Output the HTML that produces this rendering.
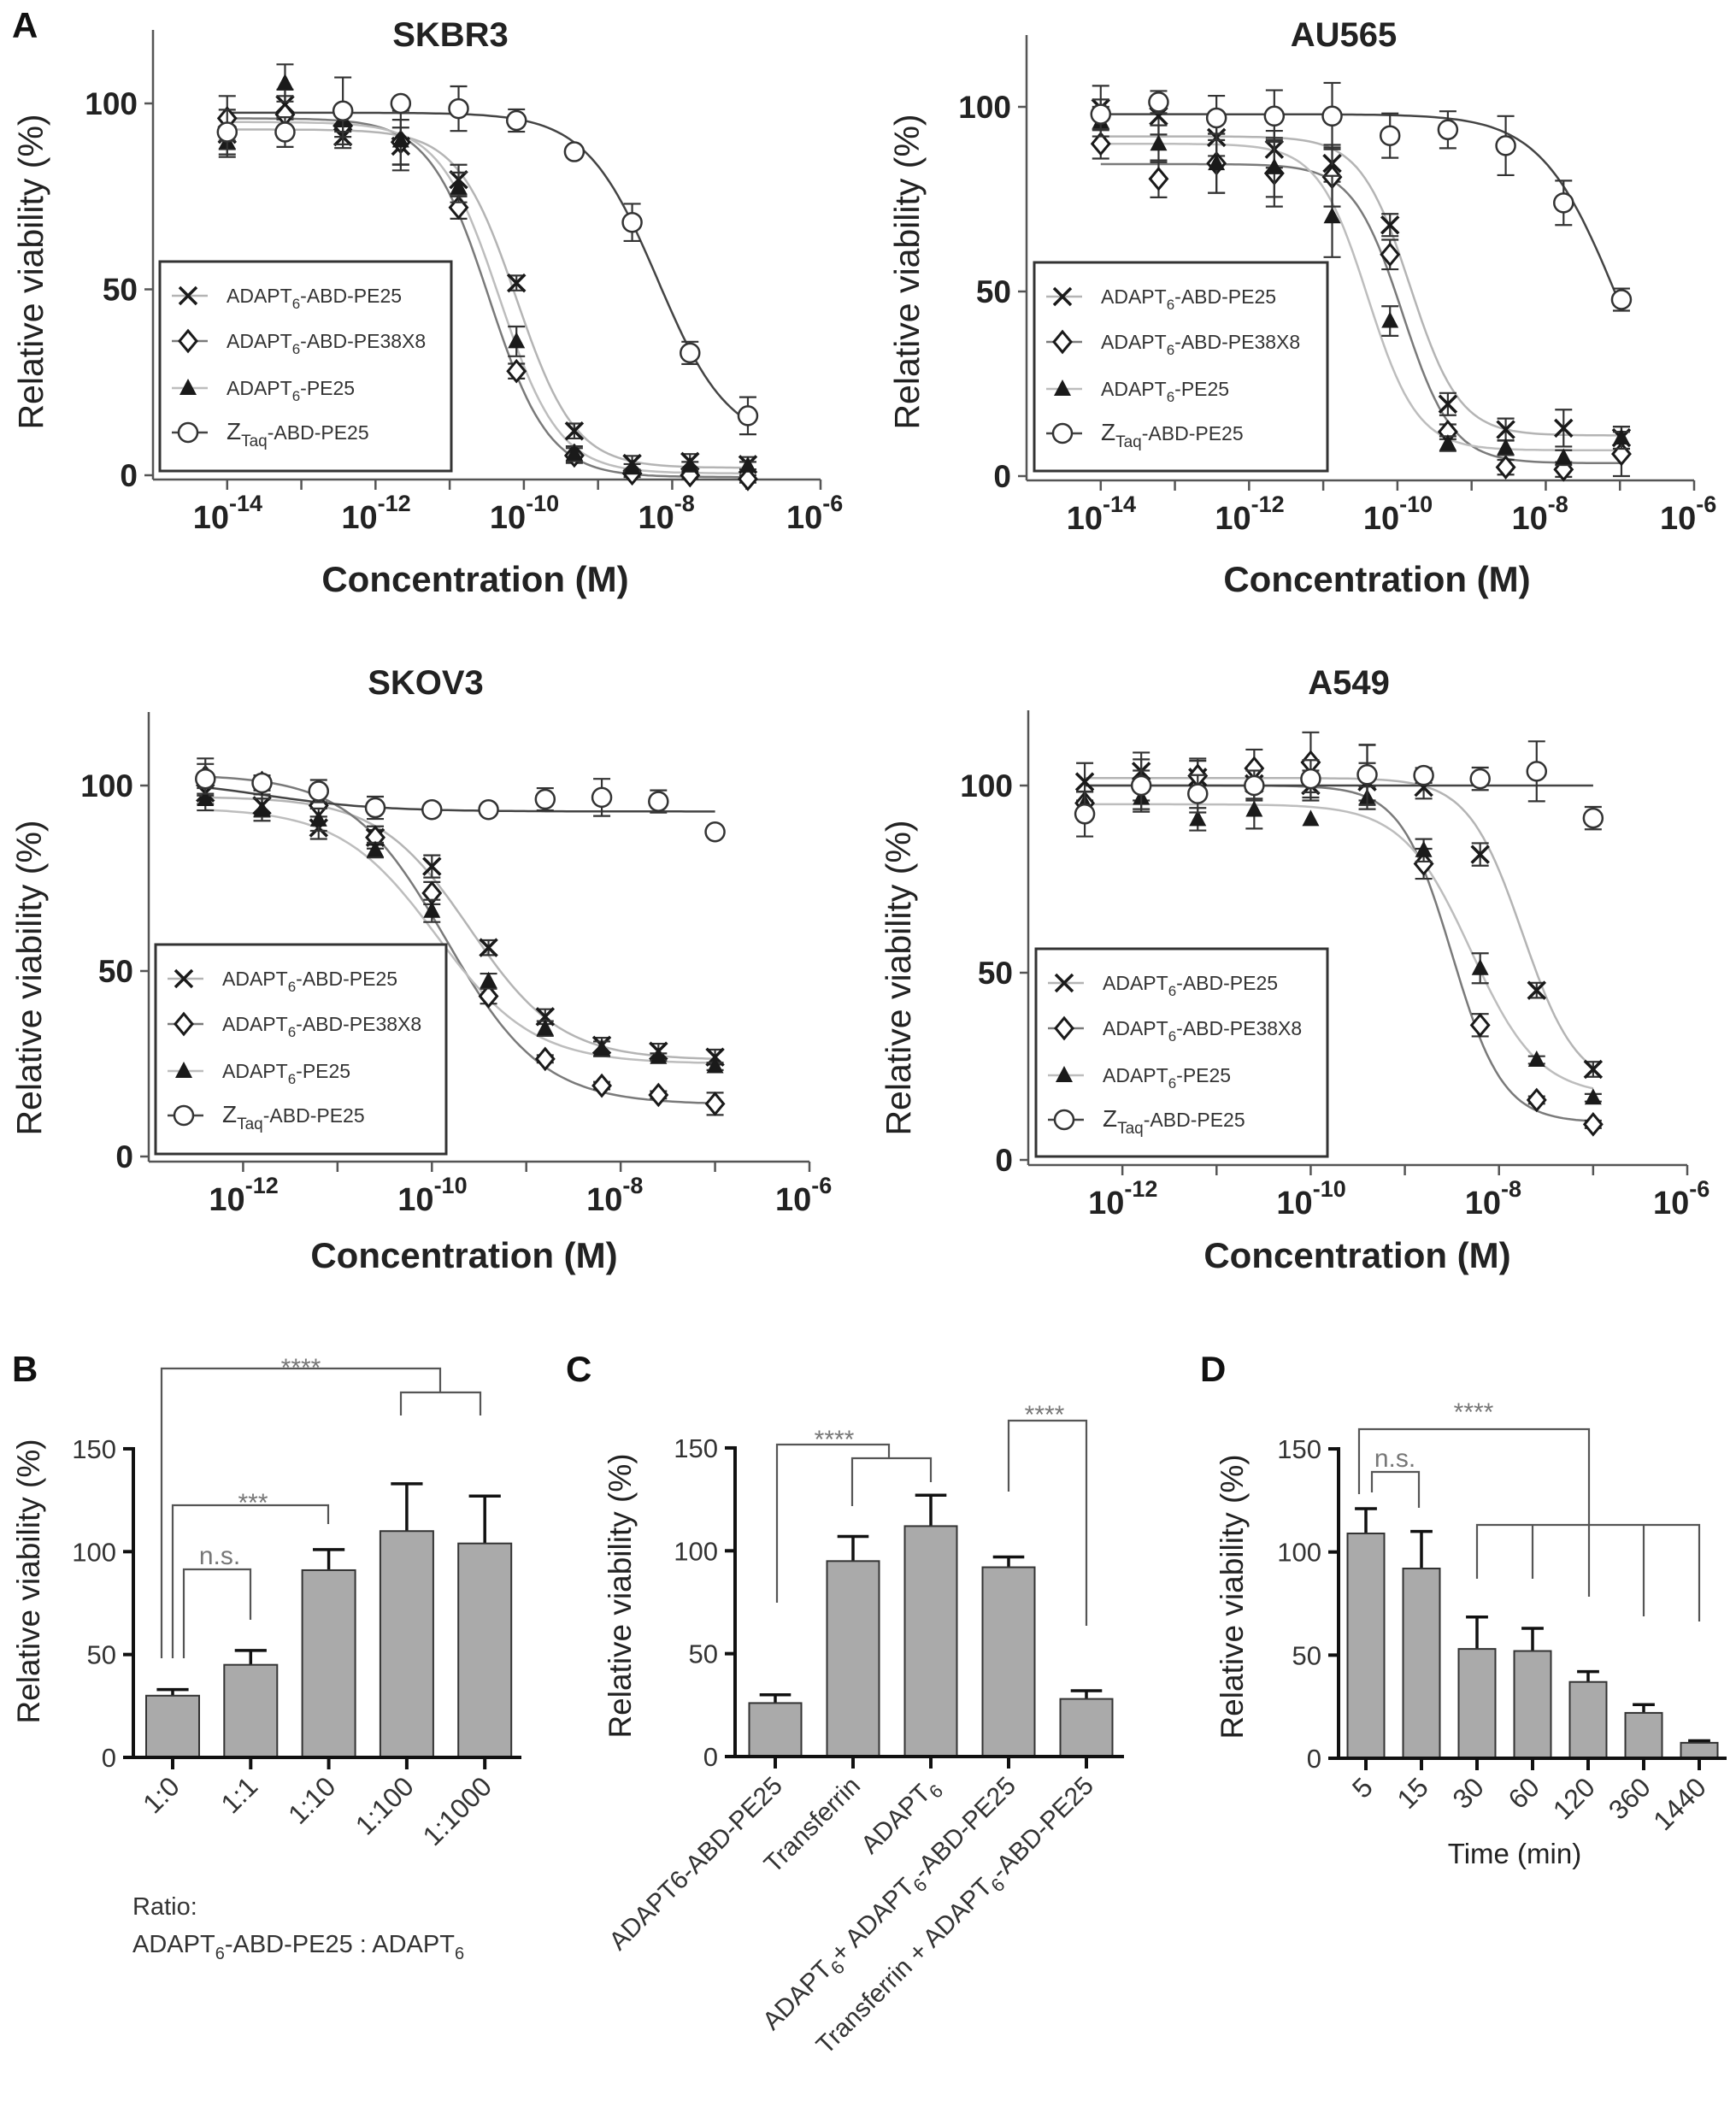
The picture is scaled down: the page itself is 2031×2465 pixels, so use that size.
<!DOCTYPE html>
<html><head><meta charset="utf-8"><title>Viability figure</title>
<style>
html,body{margin:0;padding:0;background:#fff;}
svg{display:block;font-family:"Liberation Sans",Arial,sans-serif;}
</style></head>
<body>
<svg id="chart" width="2031" height="2465" viewBox="0 0 2031 2465" xmlns="http://www.w3.org/2000/svg"></svg>
<script>
// ---------- DATA ----------
const logConcA = [-14,-13.22,-12.44,-11.66,-10.88,-10.1,-9.32,-8.54,-7.76,-6.98];
const logConcB = [-12.4,-11.8,-11.2,-10.6,-10,-9.4,-8.8,-8.2,-7.6,-7.0];
const seriesNames = ['ADAPT6-ABD-PE25','ADAPT6-ABD-PE38X8','ADAPT6-PE25','ZTaq-ABD-PE25'];

const skbr3X = [91.7,99.7,91,88.5,79.5,51.7,11.9,3.2,3.7,2.9];
const skbr3XErr = [4,4,3,5,4,2,2,2,2,2];
const skbr3D = [96,97,94,89.6,72,28,5.3,0.5,0,-1];
const skbr3DErr = [6,5,3,6,3,2,2,1,1,1];
const skbr3T = [89.6,105.5,95.4,90,77.4,36,5.8,2,2.6,2.6];
const skbr3TErr = [4,5,3,8,4,4,2,1,1,1];
const skbr3C = [92.3,92.3,98,100,98.6,95.4,87,68,32.9,16];
const skbr3CErr = [6,4,9,0,6,3,0,5,3,5];
const skbr3Fits = [[93,2,-10.1,1.1],[96,-0.5,-10.47,1.08],[95,0.5,-10.33,1.08],[97.5,8,-8.2,0.9]];

const au565X = [99.7,97.5,91.7,88.5,84.7,68,19.5,12.6,13,10.4];
const au565XErr = [6,5,5,5,5,3,3,3,5,3];
const au565D = [90,80.5,84.7,82,81,60,12,2.4,1.8,6];
const au565DErr = [4,5,8,9,8,4,2,2,2,6];
const au565T = [96,90,84.7,83.6,70.3,42,8.8,7.7,5,10.4];
const au565TErr = [4,5,8,8,11,4,2,2,2,3];
const au565C = [98,101.3,97,97.5,97.5,92.2,93.8,89.5,74,47.8];
const au565CErr = [4,3,6,7,9,6,5,8,6,3];
const au565Fits = [[92,11,-9.83,1.3],[84.5,3.5,-9.93,1.3],[90,7,-10.4,1.3],[98,0,-7.05,0.85]];

const skov3X = [98,94.6,88.6,86,78.2,56.3,37.7,30,28.4,26.8];
const skov3XErr = [3,3,3,2,3,2,2,2,2,2];
const skov3D = [102.3,100.7,94.6,86,71,43.2,26.3,19.1,16.6,14.2];
const skov3DErr = [5,2,3,3,3,2,1,1,1,3];
const skov3T = [96.3,93.5,90.8,82.6,66.2,47.3,34.5,29,26.8,24.3];
const skov3TErr = [3,3,3,2,3,2,2,2,1,1];
const skov3C = [101.8,100.7,98.5,94,93.5,93.5,96.3,96.8,95.7,87.5];
const skov3CErr = [4,2,3,3,0,0,3,5,3,0];
const skov3Fits = [[97,26,-9.6,0.9],[103,14,-9.85,0.85],[94,25,-9.95,0.85],[102,93,-11.8,0.7]];

const a549X = [101,103.8,102.2,100.5,100,101,99.5,81.6,45.3,24.2];
const a549XErr = [5,5,5,4,4,5,3,3,2,2];
const a549D = [95.3,100,102.6,104.6,106.2,102.8,79.1,36,16,9.5];
const a549DErr = [3,4,4,5,8,8,4,3,1,1];
const a549T = [95.3,96.7,91,93.5,91,96.7,82.7,51.2,26.7,16.6];
const a549TErr = [3,3,3,5,0,3,3,4,1,1];
const a549C = [92.4,100,97.8,100,101.8,102.9,102.7,101.8,103.8,91.3];
const a549CErr = [6,7,5,4,5,8,2,3,8,3];
const a549Fits = [[102,19,-7.75,1.5],[100,10,-8.5,1.6],[95,17,-8.3,1.2],[100,100,-9,1]];

const SUB6 = '<tspan dy="8" font-size="22">6</tspan><tspan dy="-8">';
const barBCats = ['1:0','1:1','1:10','1:100','1:1000'];
const barBVals = [30,45,91,110,104];
const barBErr = [3,7,10,23,23];
const barCCats = ['ADAPT6-ABD-PE25','Transferrin','ADAPT'+SUB6+'</tspan>','ADAPT'+SUB6+'+ ADAPT</tspan>'+SUB6+'-ABD-PE25</tspan>','Transferrin + ADAPT'+SUB6+'-ABD-PE25</tspan>'];
const barCVals = [26,95,112,92,28];
const barCErr = [4,12,15,5,4];
const barDCats = ['5','15','30','60','120','360','1440'];
const barDVals = [109,92,53,52,37,22,7.5];
const barDErr = [12,18,15.5,11,5,4,1];
const barTicks = [0,50,100,150];
const lineTicks = [0,50,100];

// ---------- helpers ----------
const NS='http://www.w3.org/2000/svg';
const svg=document.getElementById('chart');
function mk(tag, attrs, parent){const e=document.createElementNS(NS,tag);for(const k in attrs)e.setAttribute(k,attrs[k]);(parent||svg).appendChild(e);return e;}
function logistic(p,x){return p[1]+(p[0]-p[1])/(1+Math.pow(10,p[3]*(x-p[2])));}

function marker(type,x,y,g){
  let m;
  if(type===0){m=mk('path',{d:`M${x-10},${y-10}L${x+10},${y+10}M${x-10},${y+10}L${x+10},${y-10}`,stroke:'#1a1a1a','stroke-width':3.5,fill:'none'},g);}
  else if(type===1){m=mk('path',{d:`M${x},${y-12}L${x+10},${y}L${x},${y+12}L${x-10},${y}Z`,stroke:'#1a1a1a','stroke-width':3,fill:'#fff'},g);}
  else if(type===2){m=mk('path',{d:`M${x},${y-11}L${x+10},${y+8}L${x-10},${y+8}Z`,fill:'#1a1a1a'},g);}
  else {m=mk('circle',{cx:x,cy:y,r:11,stroke:'#333','stroke-width':2.5,fill:'#fff'},g);}
  return m;
}
const curveColors=['#b4b4b4','#7a7a7a','#bdbdbd','#444'];

function linePanel(name, geo, conc, ys, errs, fits){
  const g=mk('g',{});
  
  
  const sx=v=>geo.xl+(v-geo.lmin)/(geo.lmax-geo.lmin)*(geo.xr-geo.xl);
  const sy=v=>geo.y0+(geo.y100-geo.y0)*v/100;
  const ya=mk('line',{x1:geo.xl,y1:geo.top,x2:geo.xl,y2:geo.axisY,stroke:'#555','stroke-width':2.5},g);
  
  
  const xa=mk('line',{x1:geo.xl,y1:geo.axisY,x2:geo.xr,y2:geo.axisY,stroke:'#555','stroke-width':2.5},g);
  
  
  for(let d=geo.lmin+1; d<=geo.lmax; d++){
    mk('line',{x1:sx(d),y1:geo.axisY,x2:sx(d),y2:geo.axisY+12,stroke:'#555','stroke-width':2.5},g);
    if((d%2)===0){
      const t=mk('text',{x:sx(d)-40,y:geo.axisY+57,'font-size':38,'font-weight':'bold',fill:'#222'},g);
      t.innerHTML='10<tspan dy="-20" font-size="27">'+d+'</tspan>';
      
      
    }
  }
  lineTicks.forEach(v=>{
    mk('line',{x1:geo.xl-10,y1:sy(v),x2:geo.xl,y2:sy(v),stroke:'#555','stroke-width':2.5},g);
    const t=mk('text',{x:geo.xl-18,y:sy(v)+13,'font-size':37,'font-weight':'bold','text-anchor':'end',fill:'#222'},g);
    t.textContent=v;
    
    
  });
  fits.forEach((p,i)=>{
    let d='';
    const a=conc[0], b=conc[conc.length-1];
    for(let k=0;k<=120;k++){const x=a+(b-a)*k/120;d+=(k?'L':'M')+sx(x).toFixed(1)+','+sy(logistic(p,x)).toFixed(1);}
    const c=mk('path',{d:d,stroke:curveColors[i],'stroke-width':2.5,fill:'none'},g);
    
    
  });
  ys.forEach((arr,i)=>{
    arr.forEach((v,j)=>{
      const x=sx(conc[j]), y=sy(v), e=errs[i][j]*(geo.y0-geo.y100)/100;
      if(e>0){
        const eb=mk('path',{d:`M${x},${y-e}L${x},${y+e}M${x-10},${y-e}L${x+10},${y-e}M${x-10},${y+e}L${x+10},${y+e}`,stroke:'#333','stroke-width':2.2,fill:'none'},g);
        
        
      }
      const m=marker(i,x,y,g);
      
      
    });
  });
  const L=geo.leg;
  const box=mk('rect',{x:L[0],y:L[1],width:L[2]-L[0],height:L[3]-L[1],fill:'#fff',stroke:'#333','stroke-width':3},g);
  
  
  const offs=[40,93,148,200];
  const labels=['ADAPT<tspan dy="7" font-size="17">6</tspan><tspan dy="-7">-ABD-PE25</tspan>',
    'ADAPT<tspan dy="7" font-size="17">6</tspan><tspan dy="-7">-ABD-PE38X8</tspan>',
    'ADAPT<tspan dy="7" font-size="17">6</tspan><tspan dy="-7">-PE25</tspan>',
    '<tspan font-size="28">Z</tspan><tspan dy="8" font-size="19">Taq</tspan><tspan dy="-8">-ABD-PE25</tspan>'];
  offs.forEach((o,i)=>{
    const y=L[1]+o;
    mk('line',{x1:L[0]+14,y1:y,x2:L[0]+56,y2:y,stroke:curveColors[i],'stroke-width':2.5},g);
    const m=marker(i,L[0]+33,y,g);
    
    
    const t=mk('text',{x:L[0]+78,y:y+8,'font-size':23,fill:'#333'},g);
    t.innerHTML=labels[i];
    
    
  });
  const ti=mk('text',{x:geo.title[0],y:geo.title[1],'font-size':40,'font-weight':'bold','text-anchor':'middle',fill:'#222'},g);
  ti.textContent=name;
  
  
  const xl=mk('text',{x:geo.xlab[0],y:geo.xlab[1],'font-size':42,'font-weight':'bold','text-anchor':'middle',fill:'#222'},g);
  xl.textContent='Concentration (M)';
  
  
  const yl=mk('text',{x:0,y:0,'font-size':41,'text-anchor':'middle',fill:'#222',transform:`translate(${geo.ylab[0]+14},${geo.ylab[1]}) rotate(-90)`},g);
  yl.textContent='Relative viability (%)';
  
  
}

linePanel('SKBR3',{xl:179,xr:960,lmin:-15,lmax:-6,y0:556,y100:121,axisY:561,top:35,leg:[187,306,528,551],title:[527,54],xlab:[556,692],ylab:[36,318]},
  logConcA,[skbr3X,skbr3D,skbr3T,skbr3C],[skbr3XErr,skbr3DErr,skbr3TErr,skbr3CErr],skbr3Fits);
linePanel('AU565',{xl:1201,xr:1982,lmin:-15,lmax:-6,y0:557,y100:125,axisY:562,top:41,leg:[1210,307,1553,551],title:[1572,54],xlab:[1611,692],ylab:[1061,318]},
  logConcA,[au565X,au565D,au565T,au565C],[au565XErr,au565DErr,au565TErr,au565CErr],au565Fits);
linePanel('SKOV3',{xl:174,xr:947,lmin:-13,lmax:-6,y0:1353,y100:919,axisY:1359,top:833,leg:[182,1105,522,1350],title:[498,812],xlab:[543,1483],ylab:[34,1144]},
  logConcB,[skov3X,skov3D,skov3T,skov3C],[skov3XErr,skov3DErr,skov3TErr,skov3CErr],skov3Fits);
linePanel('A549',{xl:1203,xr:1974,lmin:-13,lmax:-6,y0:1357,y100:919,axisY:1363,top:831,leg:[1212,1110,1553,1353],title:[1578,812],xlab:[1588,1483],ylab:[1051,1144]},
  logConcB,[a549X,a549D,a549T,a549C],[a549XErr,a549DErr,a549TErr,a549CErr],a549Fits);

function barPanel(name, geo, cats, vals, errs){
  const g=mk('g',{});
  
  
  const sy=v=>geo.y0-v*geo.k;
  const cx=i=>geo.c0+i*geo.step;
  const ya=mk('line',{x1:geo.ax,y1:sy(150)-2,x2:geo.ax,y2:geo.y0+2,stroke:'#111','stroke-width':4},g);
  
  
  barTicks.forEach(v=>{
    mk('line',{x1:geo.ax-12,y1:sy(v),x2:geo.ax,y2:sy(v),stroke:'#111','stroke-width':4},g);
    const t=mk('text',{x:geo.ax-20,y:sy(v)+11,'font-size':31,'text-anchor':'end',fill:'#333'},g);
    t.textContent=v;
    
    
  });
  vals.forEach((v,i)=>{
    const x=cx(i);
    const e=mk('path',{d:`M${x},${sy(v)}L${x},${sy(v+errs[i])}M${x-geo.w*0.3},${sy(v+errs[i])}L${x+geo.w*0.3},${sy(v+errs[i])}`,stroke:'#111','stroke-width':3.5,fill:'none'},g);
    
    
    const r=mk('rect',{x:x-geo.w/2,y:sy(v),width:geo.w,height:geo.y0-sy(v),fill:'#aaaaaa',stroke:'#333','stroke-width':2},g);
    
    
    mk('line',{x1:x,y1:geo.y0,x2:x,y2:geo.y0+14,stroke:'#111','stroke-width':4},g);
    const t=mk('text',{x:0,y:0,'font-size':geo.fs,'text-anchor':'end',fill:'#333',transform:`translate(${x+10},${geo.y0+36}) rotate(-45)`},g);
    t.innerHTML=cats[i];
    
    
  });
  const xa=mk('line',{x1:geo.x0,y1:geo.y0,x2:geo.x1,y2:geo.y0,stroke:'#111','stroke-width':4},g);
  
  
  const yl=mk('text',{x:0,y:0,'font-size':37,'text-anchor':'middle',fill:'#222',transform:`translate(${geo.ylab[0]+13},${geo.ylab[1]}) rotate(-90)`},g);
  yl.textContent='Relative viability (%)';
  
  
  return g;
}
barPanel('B',{ax:156,y0:2056,k:2.407,x0:148,x1:610,c0:202,step:91.3,w:62,fs:32,ylab:[33,1850]},barBCats,barBVals,barBErr);
barPanel('C',{ax:860,y0:2055,k:2.407,x0:852,x1:1315,c0:907,step:91,w:61,fs:30,ylab:[725,1867]},barCCats,barCVals,barCErr);
barPanel('D',{ax:1566,y0:2057,k:2.413,x0:1557,x1:2020,c0:1598,step:65,w:43,fs:32,ylab:[1441,1868]},barDCats,barDVals,barDErr);

function bracket(d,name){
  const p=mk('path',{d:d,stroke:'#555','stroke-width':2.2,fill:'none'});
  
  
}
function sig(x,y,s,name){
  const t=mk('text',{x:x,y:y,'font-size':30,'text-anchor':'middle',fill:'#777'});
  t.textContent=s;
  
  
}
bracket('M189,1940L189,1601L515,1601L515,1629M469,1656L469,1629L562,1629L562,1656','bracket-b-4star');
sig(352,1610,'****','sig-b-4star');
bracket('M202,1940L202,1761L384,1761L384,1783','bracket-b-3star');
sig(296,1768,'***','sig-b-3star');
bracket('M215,1940L215,1836L293,1836L293,1895','bracket-b-ns');
sig(257,1830,'n.s.','sig-b-ns');
bracket('M909,1875L909,1690L1040,1690L1040,1706M997,1762L997,1706L1089,1706L1089,1734','bracket-c-left');
sig(976,1694,'****','sig-c-left');
bracket('M1180,1745L1180,1662L1271,1662L1271,1902','bracket-c-right');
sig(1222,1665,'****','sig-c-right');
bracket('M1590,1748L1590,1672L1859,1672L1859,1868M1728,1847L1728,1784L1988,1784L1988,1897M1793,1784L1793,1847M1923,1784L1923,1891','bracket-d-4star');
sig(1724,1662,'****','sig-d-4star');
bracket('M1605,1746L1605,1722L1660,1722L1660,1764','bracket-d-ns');
sig(1632,1716,'n.s.','sig-d-ns');

[['A',14,44],['B',14,1616],['C',662,1616],['D',1404,1616]].forEach(a=>{
  const t=mk('text',{x:a[1],y:a[2],'font-size':42,'font-weight':'bold',fill:'#111'});
  t.textContent=a[0];
  
  
});
const r1=mk('text',{x:155,y:2240,'font-size':29,fill:'#333'});
r1.textContent='Ratio:';


const r2=mk('text',{x:155,y:2284,'font-size':29,fill:'#333'});
r2.innerHTML='ADAPT<tspan dy="8" font-size="20">6</tspan><tspan dy="-8">-ABD-PE25 : ADAPT</tspan><tspan dy="8" font-size="20">6</tspan>';


const tm=mk('text',{x:1772,y:2180,'font-size':33,'text-anchor':'middle',fill:'#222'});
tm.textContent='Time (min)';


</script>
</body></html>
